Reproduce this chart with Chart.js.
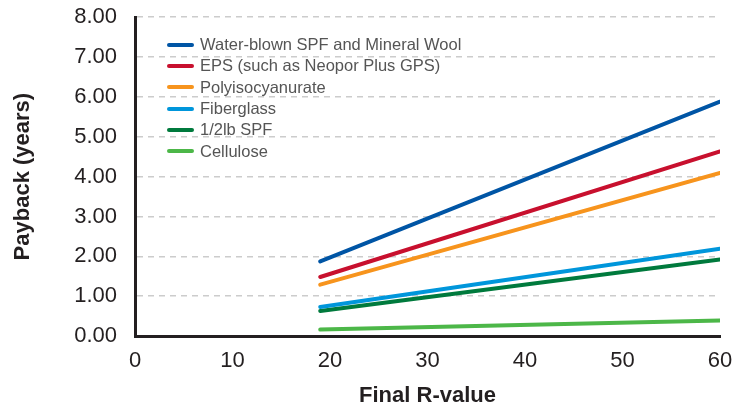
<!DOCTYPE html>
<html>
<head>
<meta charset="utf-8">
<script src="https://cdn.jsdelivr.net/npm/chart.js@4.4.1/dist/chart.umd.min.js"></script>
<style>
  html, body { margin: 0; padding: 0; background: #fff; }
  #wrap { position: relative; width: 750px; height: 409px; overflow: hidden; }
  #chart { position: absolute; left: 0; top: -14px; }
  #legend {
    position: absolute; left: 167px; top: 34px;
    font-family: "Liberation Sans", Arial, sans-serif; font-size: 16.5px; color: #555;
  }
  .leg-item { height: 21.3px; display: flex; align-items: center; }
  .leg-swatch { width: 27px; height: 4px; border-radius: 2px; margin-right: 6px; }
</style>
</head>
<body>
<div id="wrap">
  <canvas id="chart" width="750" height="423"></canvas>
  <div id="legend"></div>
</div>
<script>
  // R-value at the start and end of every line
  var rValues = [19, 60];

  var seriesNames = [
    'Water-blown SPF and Mineral Wool',
    'EPS (such as Neopor Plus GPS)',
    'Polyisocyanurate',
    'Fiberglass',
    '1/2lb SPF',
    'Cellulose'
  ];
  var seriesColors = ['#0055a5', '#c8102e', '#f7941d', '#0096db', '#007a3d', '#4cb748'];

  // payback (years) at R-19 and R-60
  var waterBlown = [1.87, 5.88];
  var eps = [1.48, 4.63];
  var polyiso = [1.29, 4.09];
  var fiberglass = [0.73, 2.19];
  var halfLbSpf = [0.63, 1.92];
  var cellulose = [0.16, 0.39];

  var yTicks = [0, 1, 2, 3, 4, 5, 6, 7, 8];
  var xTicks = [0, 10, 20, 30, 40, 50, 60];

  var FONT = '"Liberation Sans", Arial, sans-serif';
  var allSeries = [waterBlown, eps, polyiso, fiberglass, halfLbSpf, cellulose];

  var datasets = allSeries.map(function (vals, i) {
    return {
      label: seriesNames[i],
      data: rValues.map(function (r, j) { return { x: r, y: vals[j] }; }),
      borderColor: seriesColors[i],
      backgroundColor: seriesColors[i],
      borderWidth: 4,
      borderCapStyle: 'round',
      pointRadius: 0,
      fill: false
    };
  });

  var legend = document.getElementById('legend');
  seriesNames.forEach(function (name, i) {
    var row = document.createElement('div');
    row.className = 'leg-item';
    row.innerHTML = '<span class="leg-swatch" style="background:' + seriesColors[i] + '"></span><span></span>';
    row.lastChild.textContent = name;
    legend.appendChild(row);
  });

  new Chart(document.getElementById('chart'), {
    type: 'line',
    data: { datasets: datasets },
    options: {
      responsive: false,
      animation: false,
      layout: { padding: { left: 10, right: 30, top: 2, bottom: 0 } },
      plugins: { legend: { display: false }, tooltip: { enabled: false } },
      scales: {
        x: {
          type: 'linear',
          min: 0, max: 60,
          afterBuildTicks: function (s) { s.ticks = xTicks.map(function (v) { return { value: v }; }); },
          afterFit: function (s) { s.height = 73; },
          grid: { display: true, color: 'rgba(0,0,0,0)', drawTicks: false },
          border: { display: true, color: '#231f20', width: 3 },
          ticks: { padding: 12, color: '#231f20', font: { family: FONT, size: 22 } },
          title: {
            display: true, text: 'Final R-value', color: '#231f20',
            font: { family: FONT, size: 22, weight: 'bold' },
            padding: { top: 8, bottom: 0 }
          }
        },
        y: {
          min: 0, max: 8,
          afterBuildTicks: function (s) { s.ticks = yTicks.map(function (v) { return { value: v }; }); },
          afterFit: function (s) { s.width = 125; },
          grid: {
            color: function (c) { return c.tick && c.tick.value === 0 ? 'rgba(0,0,0,0)' : '#cccccc'; },
            lineWidth: 1.5, drawTicks: false
          },
          border: { display: true, color: '#231f20', width: 3, dash: [6, 5] },
          ticks: {
            padding: 18, color: '#231f20', font: { family: FONT, size: 22 },
            callback: function (v) { return v.toFixed(2); }
          },
          title: {
            display: true, text: 'Payback (years)', color: '#231f20',
            font: { family: FONT, size: 22, weight: 'bold' },
            padding: { top: 0, bottom: 0 }
          }
        }
      }
    }
  });
</script>
</body>
</html>
